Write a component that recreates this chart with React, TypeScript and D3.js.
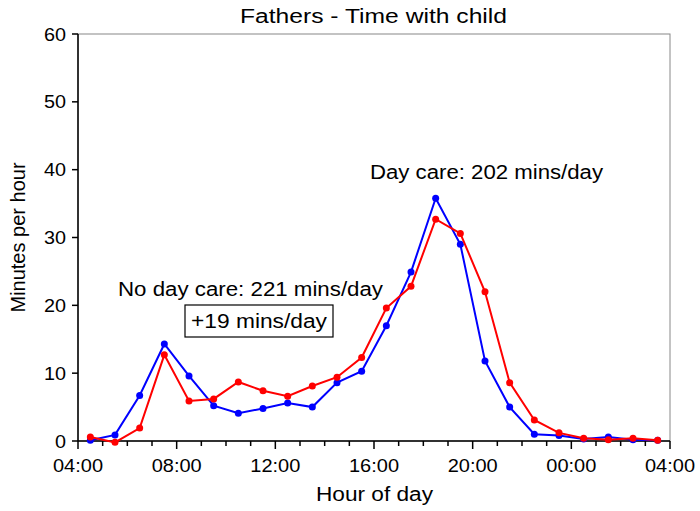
import React from "react";
import * as d3 from "d3";

const hours = [4.5,5.5,6.5,7.5,8.5,9.5,10.5,11.5,12.5,13.5,14.5,15.5,16.5,17.5,18.5,19.5,20.5,21.5,22.5,23.5,24.5,25.5,26.5,27.5];
const dayCare = [0.1,0.9,6.7,14.3,9.6,5.2,4.1,4.8,5.6,5.0,8.6,10.3,17.0,24.9,35.8,29.0,11.8,5.0,1.0,0.8,0.3,0.6,0.2,0.1];
const noDayCare = [0.6,-0.2,1.9,12.7,5.9,6.2,8.7,7.4,6.6,8.1,9.4,12.3,19.6,22.8,32.7,30.6,22.0,8.6,3.1,1.2,0.4,0.2,0.4,0.1];
const xTickLabels = ["04:00","08:00","12:00","16:00","20:00","00:00","04:00"];
const yTicks = [0,10,20,30,40,50,60];

export default function App() {
  const W = 700, H = 511;
  const L = 78, R = 670, T = 34, B = 441;
  const x = d3.scaleLinear().domain([4, 28]).range([L, R]);
  const y = d3.scaleLinear().domain([0, 60]).range([B, T]);
  const line = d3.line<number>().x((_, i) => x(hours[i])).y(d => y(d));
  const font = "Liberation Sans, Arial, sans-serif";
  const series = [
    { v: dayCare, c: "#0000ff" },
    { v: noDayCare, c: "#ff0000" },
  ];
  return (
    <svg width={W} height={H} style={{ position: "absolute", left: 0, top: 0 }} fontFamily={font}>
      <rect x={L} y={T} width={R - L} height={B - T} fill="none" stroke="#888" strokeWidth={1} />
      <line x1={L} y1={T} x2={L} y2={B} stroke="#000" strokeWidth={1.5} />
      <line x1={L} y1={B} x2={R} y2={B} stroke="#000" strokeWidth={1.5} />
      {yTicks.map(t => (
        <g key={t}>
          <line x1={L - 6} x2={L} y1={y(t)} y2={y(t)} stroke="#000" strokeWidth={1.5} />
          <text x={L - 12} y={y(t)} dy="0.35em" textAnchor="end" fontSize={19} textLength={t === 0 ? 11 : 22} lengthAdjust="spacingAndGlyphs">{t}</text>
        </g>
      ))}
      {d3.range(4, 29).map(h => (
        <line key={h} x1={x(h)} x2={x(h)} y1={B} y2={B + ((h - 4) % 4 === 0 ? 8 : 5)} stroke="#000" strokeWidth={1.5} />
      ))}
      {xTickLabels.map((s, i) => (
        <text key={i} x={x(4 + i * 4)} y={B + 31} textAnchor="middle" fontSize={19} textLength={50} lengthAdjust="spacingAndGlyphs">{s}</text>
      ))}
      {series.map((s, k) => (
        <g key={k}>
          <path d={line(s.v) || ""} fill="none" stroke={s.c} strokeWidth={2} />
          {s.v.map((d, i) => <circle key={i} cx={x(hours[i])} cy={y(d)} r={3.5} fill={s.c} />)}
        </g>
      ))}
      <text x={240} y={23} fontSize={20} textLength={267} lengthAdjust="spacingAndGlyphs">Fathers - Time with child</text>
      <text x={316} y={501} fontSize={20} textLength={117} lengthAdjust="spacingAndGlyphs">Hour of day</text>
      <text transform={`translate(25,${(T + B) / 2}) rotate(-90)`} textAnchor="middle" fontSize={20}>Minutes per hour</text>
      <text x={370} y={179} fontSize={20} textLength={233} lengthAdjust="spacingAndGlyphs">Day care: 202 mins/day</text>
      <text x={118} y={296} fontSize={20} textLength={265} lengthAdjust="spacingAndGlyphs">No day care: 221 mins/day</text>
      <rect x={185} y={305} width={148} height={32} fill="#fff" stroke="#000" strokeWidth={1.2} />
      <text x={191} y={328} fontSize={20} textLength={136} lengthAdjust="spacingAndGlyphs">+19 mins/day</text>
    </svg>
  );
}
